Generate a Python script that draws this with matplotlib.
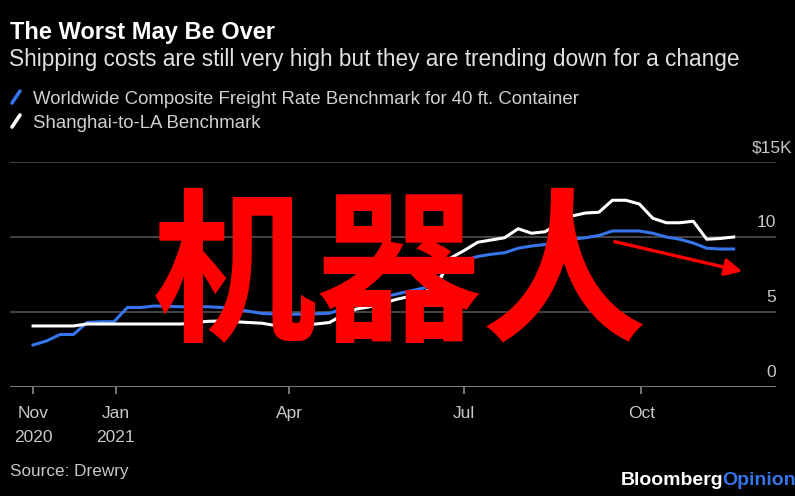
import matplotlib
matplotlib.use("Agg")
import matplotlib.pyplot as plt
import numpy as np
import pandas as pd

# weekly Drewry readings, Nov 19 2020 .. Nov 18 2021 ($ thousands)
weeks = pd.date_range("2020-11-19", periods=53, freq="7D")
composite = [2.80, 3.07, 3.50, 3.50, 4.30, 4.35, 4.35, 5.30, 5.30, 5.40,
             5.38, 5.35, 5.35, 5.35, 5.30, 5.20, 5.05, 4.90, 4.87, 4.85,
             4.85, 4.88, 4.92, 5.20, 5.55, 5.80, 6.00, 6.20, 6.40, 6.60,
             7.10, 8.20, 8.45, 8.70, 8.85, 8.95, 9.25, 9.40, 9.50, 9.65,
             9.85, 9.95, 10.10, 10.40, 10.40, 10.40, 10.25, 10.00, 9.85, 9.60,
             9.25, 9.20, 9.20]
shanghai_la = [4.07, 4.07, 4.07, 4.07, 4.20, 4.20, 4.20, 4.20, 4.20, 4.20,
               4.20, 4.20, 4.30, 4.38, 4.40, 4.35, 4.30, 4.25, 4.10, 4.05,
               4.15, 4.20, 4.30, 4.80, 5.20, 5.35, 5.60, 5.85, 6.05, 6.30,
               6.80, 8.60, 9.10, 9.65, 9.80, 9.95, 10.55, 10.25, 10.35, 10.90,
               11.40, 11.60, 11.65, 12.45, 12.45, 12.20, 11.25, 10.95, 10.95, 11.05,
               9.85, 9.90, 10.00]

y_ticks = [0, 5, 10, 15]
y_labels = ["0", "5", "10", "$15K"]
x_ticks = ["2020-11-19", "2021-01-01", "2021-04-01", "2021-07-01", "2021-10-01"]
x_labels = ["Nov\n2020", "Jan\n2021", "Apr", "Jul", "Oct"]

BLUE = "#3574ea"
W, H = 795, 496


def fx(px):
    return px / W


def fy(py):
    return 1 - py / H


fig = plt.figure(figsize=(W / 100, H / 100), dpi=100, facecolor="black")
plt.rcParams["font.family"] = ["Liberation Sans", "DejaVu Sans"]

ax = fig.add_axes([fx(10), fy(387), fx(776) - fx(10), fy(162) - fy(387)])
ax.set_facecolor("black")

ax.plot(weeks, composite, color=BLUE, lw=2.2, solid_joinstyle="round", zorder=3)
ax.plot(weeks, shanghai_la, color="white", lw=2.2, solid_joinstyle="round", zorder=4)

ax.set_ylim(0, 15)
ax.set_xlim(pd.Timestamp("2020-11-07"), pd.Timestamp("2021-12-10"))

for v in y_ticks[1:]:
    ax.axhline(v, color="#4a4a4a", lw=1.3, zorder=1)
for s in ax.spines.values():
    s.set_visible(False)
ax.axhline(0, color="#8a8a8a", lw=2, zorder=2)

for v, lab in zip(y_ticks, y_labels):
    dx = 12 if lab.startswith("$") else 0
    ax.annotate(lab, xy=(1, v), xycoords=("axes fraction", "data"),
                xytext=(dx, 7), textcoords="offset points",
                ha="right", va="baseline", color="#c8c8c8", fontsize=12.5,
                annotation_clip=False)

ax.set_yticks([])
ax.set_xticks([pd.Timestamp(d) for d in x_ticks])
ax.set_xticklabels(x_labels, color="#c8c8c8", fontsize=12.5, linespacing=1.7)
ax.tick_params(axis="x", direction="out", length=5, width=1.2, color="#8a8a8a", pad=9)

# headline block
fig.text(fx(10), fy(39), "The Worst May Be Over", color="white", fontsize=17,
         fontweight="bold", ha="left", va="baseline")
fig.text(fx(9), fy(66), "Shipping costs are still very high but they are trending down for a change",
         color="#e0e0e0", fontsize=16.3, ha="left", va="baseline")
fig.text(fx(33), fy(104), "Worldwide Composite Freight Rate Benchmark for 40 ft. Container",
         color="#d0d0d0", fontsize=13.4, ha="left", va="baseline")
fig.text(fx(33), fy(128), "Shanghai-to-LA Benchmark",
         color="#d0d0d0", fontsize=13.4, ha="left", va="baseline")
for py, c in [(97, BLUE), (121, "white")]:
    fig.add_artist(plt.Line2D([fx(12), fx(20)], [fy(py + 6), fy(py - 6)],
                              color=c, lw=2.6, solid_capstyle="round"))

fig.text(fx(10), fy(476), "Source: Drewry", color="#c8c8c8", fontsize=12.3,
         ha="left", va="baseline")
brand = fig.text(fx(621), fy(485), "Bloomberg", color="white", fontsize=14,
                 fontweight="bold", ha="left", va="baseline")
ax.annotate("Opinion", xy=(1, 0), xycoords=brand, va="bottom", ha="left",
            xytext=(-1, 0), textcoords="offset points",
            color=BLUE, fontsize=14, fontweight="bold", annotation_clip=False)

# red overlay
fig.text(fx(400), fy(280), "机器人", color="red", fontsize=119, fontweight="bold",
         family=["Noto Sans CJK SC", "DejaVu Sans"], ha="center", va="center")
ax.annotate("", xy=(745, 496 - 272), xycoords="figure pixels",
            xytext=(612, 496 - 241), textcoords="figure pixels",
            arrowprops=dict(arrowstyle="-|>", color="red", lw=2.4,
                            mutation_scale=26), annotation_clip=False)

fig.savefig("out.png", dpi=100, facecolor="black")
